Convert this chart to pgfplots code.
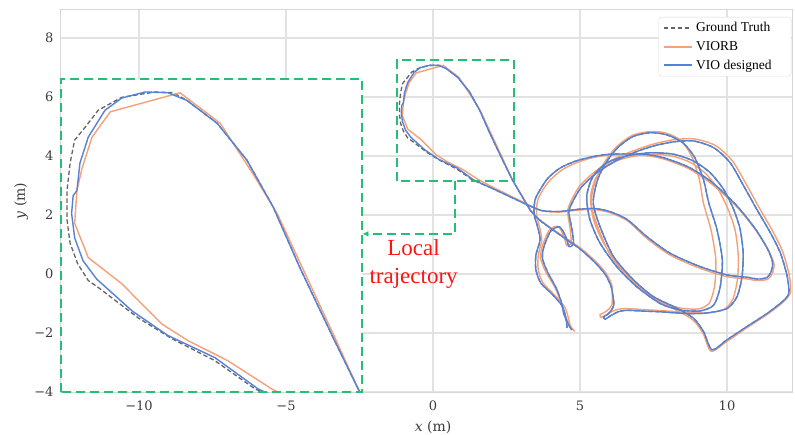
\documentclass[border=0pt]{standalone}
\usepackage{fontspec}
\setmainfont{Liberation Serif}
\newfontfamily\dejaserif{DejaVu Serif}
\usepackage{pgfplots}
\pgfplotsset{compat=1.18}
\usepackage{pgfplotstable}
\usetikzlibrary{arrows.meta}

\definecolor{gtc}{RGB}{100,100,100}
\definecolor{orc}{RGB}{246,160,120}
\definecolor{blc}{RGB}{85,130,212}
\definecolor{grn}{RGB}{36,190,116}
\definecolor{gridc}{RGB}{226,226,226}
\definecolor{spinec}{RGB}{215,215,215}
\definecolor{tickc}{RGB}{60,60,60}
\definecolor{redc}{RGB}{255,20,20}

% ---------- first part of the trajectory (start -> loop) ----------
\pgfplotstableread{
x y
4.56 -1.83
4.52 -1.49
4.39 -1.08
4.05 -0.68
3.67 -0.31
3.50 0.14
3.50 0.64
3.64 1.15
3.57 1.56
3.44 2.03
3.47 2.51
3.64 2.85
3.91 3.25
4.32 3.59
4.83 3.82
5.40 3.97
6.02 4.06
7.16 4.06
7.84 3.94
8.70 3.62
9.50 3.10
10.30 2.35
10.95 1.55
11.38 0.85
11.55 0.40
11.50 0.08
11.36 -0.12
11.05 -0.17
10.68 -0.11
10.00 -0.03
9.09 0.25
8.07 0.70
7.27 1.27
6.60 1.85
6.00 2.12
5.50 2.22
5.00 2.20
4.30 2.12
3.70 2.15
3.20 2.35
2.60 2.63
2.00 2.91
}\tA

\pgfplotstableread{
x y
4.70 -1.90
4.62 -1.55
4.48 -1.12
4.12 -0.70
3.74 -0.30
3.58 0.14
3.58 0.64
3.70 1.15
3.63 1.56
3.52 2.03
3.56 2.49
3.74 2.86
4.02 3.22
4.42 3.55
4.90 3.78
5.45 3.95
6.05 4.03
7.16 4.02
7.84 3.90
8.72 3.56
9.52 3.02
10.34 2.27
10.99 1.47
11.42 0.78
11.60 0.34
11.54 0.02
11.38 -0.18
11.02 -0.22
10.64 -0.16
10.00 -0.09
9.09 0.19
8.07 0.64
7.27 1.21
6.62 1.80
6.02 2.08
5.52 2.18
5.00 2.17
4.30 2.10
3.72 2.14
3.22 2.36
2.65 2.64
2.10 2.91
}\tAo

% ---------- local loop ----------
\pgfplotstableread{
x y
2.00 2.91
1.34 3.19
0.81 3.56
0.24 3.85
-0.20 4.12
-0.73 4.52
-0.86 4.61
-1.00 4.83
-1.10 5.10
-1.14 5.40
-1.14 5.79
-1.10 6.15
-1.04 6.45
-0.90 6.62
-0.73 6.84
-0.42 7.01
0.02 7.08
0.26 7.07
0.44 6.97
0.84 6.67
1.23 6.19
1.58 5.57
1.93 4.78
2.37 3.86
2.70 3.19
3.30 2.17
}\loopGT

\pgfplotstableread{
x y
2.00 2.91
1.38 3.19
0.81 3.60
0.19 3.89
-0.28 4.21
-0.75 4.63
-0.93 4.87
-1.04 5.17
-1.08 5.49
-1.06 5.72
-1.01 5.79
-0.97 6.15
-0.86 6.49
-0.64 6.84
-0.42 7.00
-0.11 7.08
0.19 7.07
0.44 6.97
0.84 6.67
1.23 6.19
1.58 5.57
1.93 4.78
2.37 3.86
2.70 3.19
3.30 2.17
}\loopBL

\pgfplotstableread{
x y
2.10 2.91
1.56 3.19
0.98 3.56
0.46 3.82
0.11 4.04
-0.42 4.57
-0.86 4.91
-1.04 5.36
-1.01 5.79
-0.94 6.09
-0.81 6.49
-0.57 6.82
0.35 7.07
0.88 6.67
1.31 6.01
1.63 5.49
2.37 3.91
2.70 3.19
3.33 2.15
}\loopOR

% ---------- second part of the trajectory (loop -> end) ----------
\pgfplotstableread{
x y
3.30 2.17
3.60 1.85
4.00 1.55
4.50 1.20
5.00 0.85
5.50 0.40
5.85 0.00
6.05 -0.40
6.12 -0.75
6.15 -1.05
6.05 -1.25
5.92 -1.38
5.80 -1.45
5.86 -1.53
6.00 -1.44
6.30 -1.28
6.59 -1.23
7.20 -1.26
7.73 -1.28
8.64 -1.34
9.32 -1.32
10.00 -1.17
10.34 -0.77
10.51 -0.09
10.55 0.70
10.45 1.50
10.23 2.18
9.89 2.86
9.43 3.43
8.86 3.83
8.18 4.06
7.39 4.11
6.59 4.00
5.91 3.77
5.45 3.32
5.23 2.64
5.34 1.84
5.68 1.05
6.25 0.25
6.93 -0.43
7.73 -1.00
8.41 -1.22
9.09 -1.25
9.55 -1.05
9.77 -0.43
9.84 0.48
9.66 1.50
9.38 2.41
9.20 3.20
8.90 3.95
8.50 4.45
7.95 4.72
7.39 4.79
6.80 4.66
6.30 4.30
5.90 3.80
5.60 3.20
5.45 2.41
5.68 1.61
6.14 0.59
6.82 -0.20
7.50 -0.77
8.30 -1.16
8.86 -1.50
9.20 -1.95
9.49 -2.57
10.00 -2.23
10.68 -1.78
11.36 -1.34
11.88 -0.94
12.10 -0.66
12.05 -0.09
11.82 0.70
11.48 1.39
11.02 2.18
10.57 2.98
10.11 3.77
9.55 4.28
8.86 4.51
8.18 4.48
7.50 4.34
6.82 4.11
6.25 3.85
5.60 3.45
5.05 2.95
4.75 2.45
4.62 2.10
4.72 1.55
4.78 1.05
4.63 0.93
4.50 1.30
4.30 1.60
4.00 1.45
3.78 0.95
3.72 0.55
3.88 0.10
4.20 -0.50
4.38 -1.00
4.45 -1.35
4.60 -1.70
4.73 -1.90
}\tB

\pgfplotstableread{
x y
3.33 2.15
3.63 1.84
4.03 1.55
4.53 1.21
5.03 0.87
5.53 0.43
5.88 0.03
6.08 -0.37
6.10 -0.72
6.08 -1.05
5.95 -1.22
5.80 -1.32
5.68 -1.38
5.72 -1.47
5.88 -1.40
6.20 -1.22
6.55 -1.17
7.20 -1.21
7.73 -1.24
8.64 -1.30
9.32 -1.32
9.90 -1.20
10.20 -0.85
10.36 -0.15
10.38 0.65
10.28 1.46
10.06 2.14
9.73 2.82
9.30 3.38
8.76 3.78
8.12 4.00
7.39 4.06
6.62 3.95
5.98 3.72
5.55 3.28
5.36 2.62
5.46 1.84
5.80 1.05
6.36 0.25
7.04 -0.43
7.80 -0.96
8.45 -1.16
9.05 -1.18
9.40 -0.98
9.58 -0.40
9.62 0.48
9.46 1.48
9.20 2.40
9.06 3.20
8.80 3.98
8.44 4.52
7.92 4.78
7.39 4.83
6.78 4.70
6.25 4.32
5.84 3.80
5.53 3.18
5.38 2.41
5.60 1.61
6.06 0.59
6.76 -0.22
7.46 -0.82
8.28 -1.22
8.84 -1.56
9.18 -2.00
9.46 -2.62
10.00 -2.28
10.68 -1.82
11.38 -1.36
11.92 -0.94
12.16 -0.62
12.12 -0.06
11.90 0.74
11.56 1.44
11.10 2.24
10.65 3.05
10.18 3.84
9.60 4.36
8.88 4.58
8.18 4.55
7.48 4.40
6.80 4.17
6.20 3.92
5.55 3.50
5.00 3.00
4.70 2.48
4.58 2.12
4.66 1.56
4.70 1.05
4.55 0.96
4.44 1.32
4.24 1.62
3.95 1.48
3.72 0.95
3.66 0.55
3.82 0.10
4.16 -0.48
4.36 -1.00
4.48 -1.38
4.66 -1.74
4.82 -1.95
}\tBo

\pgfplotsset{
  gtstyle/.style={color=gtc, line width=1.3pt, dash pattern=on 4.5pt off 2.5pt},
  orstyle/.style={color=orc, line width=1.4pt},
  blstyle/.style={color=blc, line width=1.4pt},
  sm/.style={smooth, tension=0.45},
}

\begin{document}
\begin{tikzpicture}
\begin{axis}[
  width=731pt, height=382pt, scale only axis,
  xmin=-12.653, xmax=12.211, ymin=-4, ymax=8.95,
  xtick={-10,-5,0,5,10}, xticklabels={−10,−5,0,5,10},
  ytick={-4,-2,0,2,4,6,8}, yticklabels={−4,−2,0,2,4,6,8},
  major tick length=0pt, tick style={draw=none},
  grid=major, grid style={color=gridc, line width=1.3pt},
  axis line style={color=spinec, line width=1pt},
  tick label style={font=\dejaserif\fontsize{13}{13}\selectfont, text=tickc},
  xticklabel style={yshift=-5pt},
  yticklabel style={xshift=-4pt},
  xlabel={\textit{x} (m)}, ylabel={\textit{y} (m)},
  every axis x label/.style={at={(axis description cs:0.509,-0.0916)}, anchor=center,
    font=\dejaserif\fontsize{14}{14}\selectfont, text=tickc},
  every axis y label/.style={at={(axis description cs:-0.0547,0.5)}, rotate=90, anchor=center,
    font=\dejaserif\fontsize{14}{14}\selectfont, text=tickc},
  legend style={at={(0.999,0.982)}, anchor=north east, draw=gray!30,
    rounded corners=3pt, fill=white, font=\fontsize{13.5}{15}\selectfont,
    inner xsep=4pt, inner ysep=2pt, row sep=1pt,
    nodes={inner sep=3.5pt}},
  legend cell align=left,
  legend image code/.code={\draw[#1, line width=2pt] (0pt,0pt) -- (28pt,0pt);},
]
\addplot[gtstyle, sm] table {\tA}; \addlegendentry{Ground Truth\hspace*{12pt}}
\addplot[gtstyle, forget plot] table {\loopGT};
\addplot[gtstyle, sm, forget plot] table {\tB};
\addplot[orstyle, sm] table {\tAo}; \addlegendentry{VIORB}
\addplot[orstyle, forget plot] table {\loopOR};
\addplot[orstyle, sm, forget plot] table {\tBo};
\addplot[blstyle, sm] table {\tA}; \addlegendentry{VIO designed\hspace*{12pt}}
\addplot[blstyle, forget plot] table {\loopBL};
\addplot[blstyle, sm, forget plot] table {\tB};

\fill[white] (axis cs:-12.653,-4) rectangle (axis cs:-2.415,6.61);
\coordinate (insSW) at (axis cs:-12.653,-4);
\coordinate (insNE) at (axis cs:-2.415,6.61);
\coordinate (boxSW) at (axis cs:-1.22,3.15);
\coordinate (boxNE) at (axis cs:2.75,7.25);
\coordinate (c1) at (axis cs:0.75,3.15);
\coordinate (c2) at (axis cs:0.75,1.36);
\coordinate (c3) at (axis cs:-2.40,1.36);
\coordinate (ll) at (rel axis cs:0,0);
\coordinate (ur) at (rel axis cs:1,1);
\node[anchor=base, text=redc, font=\fontsize{23}{23}\selectfont] at (axis cs:-0.66,0.644) {Local};
\node[anchor=base, text=redc, font=\fontsize{23}{23}\selectfont] at (axis cs:-0.66,-0.305) {trajectory};
\end{axis}

\begin{axis}[
  at={(insSW)}, anchor=south west,
  width=301pt, height=313pt, scale only axis,
  xmin=-1.22, xmax=2.75, ymin=3.15, ymax=7.25,
  hide axis,
]
\addplot[gtstyle] table {\loopGT};
\addplot[orstyle] table {\loopOR};
\addplot[blstyle] table {\loopBL};
\end{axis}

\draw[grn, line width=1.8pt, dash pattern=on 9pt off 5pt] (insSW) rectangle (insNE);
\draw[grn, line width=1.8pt, dash pattern=on 9pt off 5pt] (boxSW) rectangle (boxNE);
\draw[grn, line width=1.8pt, dash pattern=on 9pt off 5pt, -{Latex[length=6pt,width=6pt]}] (c1) -- (c2) -- (c3);

\pgfresetboundingbox
\path ([xshift=-61pt,yshift=-42pt]ll) rectangle ([xshift=3pt,yshift=10pt]ur);
\end{tikzpicture}
\end{document}
